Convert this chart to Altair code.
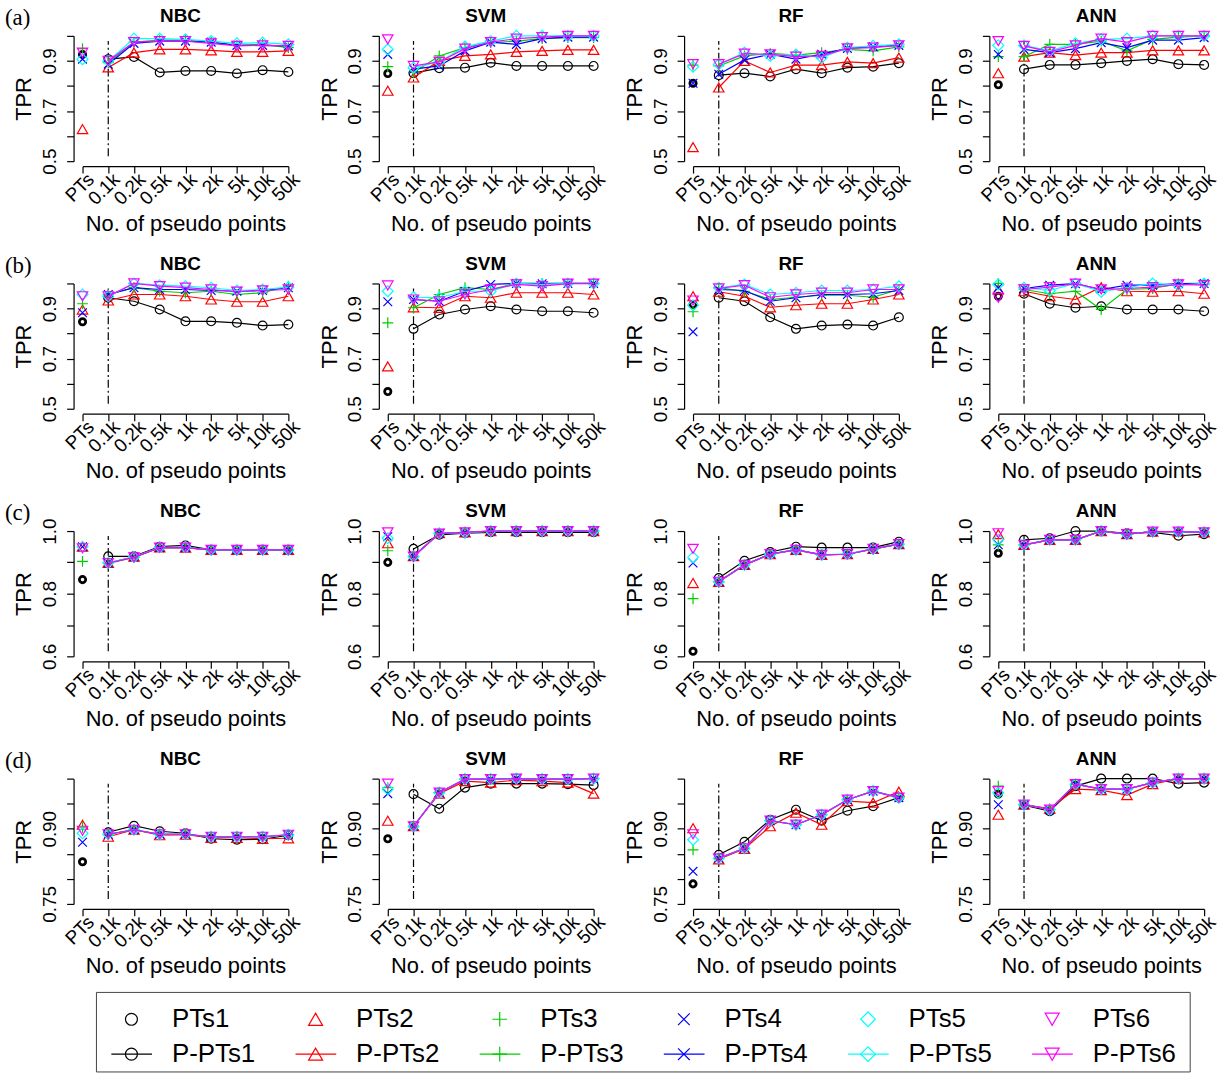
import json
import altair as alt
import pandas as pd

# ---- categories -------------------------------------------------------------
sizes = ["PTs", "0.1k", "0.2k", "0.5k", "1k", "2k", "5k", "10k", "50k"]
classifiers = ["NBC", "SVM", "RF", "ANN"]
row_letters = ["(a)", "(b)", "(c)", "(d)"]
pts_names = ["PTs1", "PTs2", "PTs3", "PTs4", "PTs5", "PTs6"]
ppts_names = ["P-PTs1", "P-PTs2", "P-PTs3", "P-PTs4", "P-PTs5", "P-PTs6"]

# ---- TPR of the original training sets (one value per PTs set) ---------------
a_NBC_pts = [0.926, 0.628, 0.949, 0.907, 0.907, 0.933]
a_SVM_pts = [0.850, 0.781, 0.877, 0.926, 0.946, 0.986]
a_RF_pts = [0.811, 0.556, 0.883, 0.811, 0.877, 0.887]
a_ANN_pts = [0.805, 0.851, 0.917, 0.926, 0.962, 0.979]
b_NBC_pts = [0.847, 0.896, 0.919, 0.883, 0.956, 0.949]
b_SVM_pts = [0.569, 0.669, 0.843, 0.927, 0.969, 0.992]
b_RF_pts = [0.916, 0.949, 0.887, 0.807, 0.913, 0.932]
b_ANN_pts = [0.949, 0.976, 1.000, 0.983, 0.996, 0.943]
c_NBC_pts = [0.845, 0.950, 0.903, 0.950, 0.950, 0.945]
c_SVM_pts = [0.900, 0.961, 0.937, 0.982, 0.977, 0.996]
c_RF_pts = [0.616, 0.834, 0.784, 0.898, 0.916, 0.943]
c_ANN_pts = [0.929, 0.990, 0.956, 0.956, 0.972, 0.993]
d_NBC_pts = [0.834, 0.908, 0.903, 0.873, 0.891, 0.896]
d_SVM_pts = [0.880, 0.916, 0.982, 0.970, 0.979, 0.990]
d_RF_pts = [0.790, 0.901, 0.858, 0.815, 0.878, 0.889]
d_ANN_pts = [0.969, 0.928, 0.985, 0.948, 0.972, 0.975]

# ---- TPR with pseudo points added (0.1k ... 50k), one row per P-PTs set -------
a_NBC = [
    [0.907, 0.916, 0.854, 0.860, 0.860, 0.850, 0.863, 0.856],
    [0.874, 0.933, 0.946, 0.946, 0.942, 0.936, 0.936, 0.940],
    [0.893, 0.975, 0.983, 0.983, 0.975, 0.962, 0.966, 0.953],
    [0.887, 0.970, 0.979, 0.979, 0.975, 0.962, 0.962, 0.960],
    [0.900, 0.989, 0.989, 0.986, 0.979, 0.970, 0.973, 0.966],
    [0.900, 0.975, 0.979, 0.979, 0.970, 0.960, 0.962, 0.960],
]
a_SVM = [
    [0.851, 0.871, 0.873, 0.893, 0.880, 0.880, 0.880, 0.880],
    [0.834, 0.900, 0.920, 0.926, 0.936, 0.940, 0.944, 0.944],
    [0.854, 0.920, 0.953, 0.973, 0.979, 0.989, 0.993, 0.993],
    [0.867, 0.880, 0.940, 0.975, 0.966, 0.989, 0.995, 0.995],
    [0.873, 0.896, 0.957, 0.979, 1.000, 1.000, 1.000, 1.000],
    [0.880, 0.896, 0.949, 0.975, 0.989, 0.995, 1.000, 1.000],
]
a_RF = [
    [0.843, 0.851, 0.838, 0.867, 0.851, 0.873, 0.877, 0.891],
    [0.794, 0.900, 0.854, 0.883, 0.883, 0.896, 0.891, 0.913],
    [0.880, 0.920, 0.930, 0.923, 0.933, 0.946, 0.940, 0.956],
    [0.847, 0.904, 0.927, 0.907, 0.927, 0.950, 0.957, 0.962],
    [0.887, 0.933, 0.920, 0.926, 0.913, 0.953, 0.960, 0.966],
    [0.887, 0.929, 0.926, 0.917, 0.920, 0.950, 0.953, 0.962],
]
a_ANN = [
    [0.867, 0.884, 0.884, 0.891, 0.900, 0.907, 0.887, 0.884],
    [0.917, 0.933, 0.923, 0.933, 0.933, 0.942, 0.942, 0.942],
    [0.917, 0.966, 0.966, 0.979, 0.940, 0.986, 0.995, 1.000],
    [0.946, 0.933, 0.949, 0.973, 0.953, 0.983, 0.983, 0.993],
    [0.962, 0.940, 0.970, 0.986, 0.989, 1.000, 1.000, 1.000],
    [0.960, 0.936, 0.962, 0.989, 0.975, 1.000, 1.000, 1.000],
]
b_NBC = [
    [0.943, 0.929, 0.896, 0.849, 0.849, 0.843, 0.832, 0.836],
    [0.932, 0.956, 0.956, 0.949, 0.936, 0.927, 0.927, 0.949],
    [0.956, 0.983, 0.969, 0.963, 0.969, 0.956, 0.963, 0.989],
    [0.956, 0.983, 0.976, 0.976, 0.972, 0.969, 0.972, 0.983],
    [0.949, 1.000, 0.993, 0.989, 0.983, 0.972, 0.976, 0.985],
    [0.949, 1.000, 0.989, 0.983, 0.976, 0.967, 0.972, 0.976],
]
b_SVM = [
    [0.819, 0.876, 0.896, 0.909, 0.896, 0.889, 0.889, 0.883],
    [0.905, 0.903, 0.949, 0.943, 0.963, 0.963, 0.963, 0.956],
    [0.903, 0.956, 0.983, 0.976, 1.000, 1.000, 1.000, 1.000],
    [0.936, 0.929, 0.969, 0.996, 1.000, 0.999, 1.000, 1.000],
    [0.945, 0.943, 0.969, 0.969, 1.000, 0.996, 1.000, 1.000],
    [0.936, 0.929, 0.956, 0.976, 0.996, 0.989, 0.999, 0.999],
]
b_RF = [
    [0.943, 0.929, 0.865, 0.819, 0.832, 0.836, 0.832, 0.865],
    [0.967, 0.949, 0.905, 0.913, 0.919, 0.919, 0.936, 0.956],
    [0.983, 0.969, 0.936, 0.945, 0.953, 0.953, 0.945, 0.976],
    [0.976, 0.972, 0.929, 0.943, 0.956, 0.956, 0.959, 0.972],
    [0.983, 0.996, 0.956, 0.963, 0.972, 0.972, 0.976, 0.989],
    [0.980, 0.993, 0.945, 0.956, 0.963, 0.963, 0.976, 0.976],
]
b_ANN = [
    [0.959, 0.919, 0.903, 0.909, 0.896, 0.896, 0.896, 0.889],
    [0.969, 0.949, 0.936, 0.985, 0.969, 0.967, 0.969, 0.959],
    [0.976, 0.959, 0.969, 0.896, 0.976, 0.980, 0.999, 0.996],
    [0.980, 0.993, 0.999, 0.976, 0.993, 0.993, 0.999, 1.000],
    [0.983, 0.972, 1.000, 0.967, 0.983, 1.000, 0.993, 1.000],
    [0.976, 0.985, 0.999, 0.976, 0.980, 0.985, 0.996, 0.993],
]
c_NBC = [
    [0.919, 0.919, 0.950, 0.954, 0.940, 0.940, 0.940, 0.940],
    [0.898, 0.918, 0.948, 0.947, 0.940, 0.940, 0.940, 0.940],
    [0.897, 0.916, 0.947, 0.948, 0.939, 0.939, 0.939, 0.939],
    [0.898, 0.917, 0.947, 0.947, 0.940, 0.940, 0.940, 0.940],
    [0.899, 0.917, 0.948, 0.948, 0.940, 0.940, 0.940, 0.940],
    [0.898, 0.916, 0.947, 0.947, 0.940, 0.940, 0.940, 0.940],
]
c_SVM = [
    [0.943, 0.988, 0.993, 0.996, 0.996, 0.996, 0.996, 0.996],
    [0.920, 0.993, 0.996, 1.000, 1.000, 1.000, 1.000, 1.000],
    [0.919, 0.992, 0.996, 0.999, 1.000, 1.000, 1.000, 1.000],
    [0.920, 0.993, 0.996, 1.000, 0.999, 1.000, 1.000, 1.000],
    [0.919, 0.993, 0.995, 1.000, 1.000, 1.000, 1.000, 1.000],
    [0.918, 0.992, 0.996, 1.000, 1.000, 1.000, 1.000, 1.000],
]
c_RF = [
    [0.850, 0.905, 0.933, 0.950, 0.947, 0.947, 0.947, 0.966],
    [0.838, 0.892, 0.926, 0.940, 0.924, 0.926, 0.943, 0.958],
    [0.838, 0.891, 0.926, 0.941, 0.924, 0.926, 0.942, 0.958],
    [0.839, 0.892, 0.927, 0.940, 0.925, 0.926, 0.943, 0.958],
    [0.838, 0.892, 0.926, 0.940, 0.924, 0.927, 0.943, 0.958],
    [0.838, 0.892, 0.926, 0.940, 0.924, 0.926, 0.943, 0.958],
]
c_ANN = [
    [0.972, 0.977, 1.000, 1.000, 0.993, 0.996, 0.985, 0.990],
    [0.956, 0.972, 0.972, 1.000, 0.990, 0.998, 0.998, 0.996],
    [0.956, 0.972, 0.972, 0.999, 0.990, 0.998, 0.998, 0.996],
    [0.956, 0.972, 0.972, 1.000, 0.990, 0.998, 0.998, 0.996],
    [0.956, 0.972, 0.972, 1.000, 0.990, 0.998, 0.998, 0.996],
    [0.956, 0.972, 0.972, 1.000, 0.990, 0.998, 0.998, 0.996],
]
d_NBC = [
    [0.893, 0.906, 0.895, 0.891, 0.880, 0.878, 0.879, 0.887],
    [0.884, 0.898, 0.887, 0.888, 0.882, 0.882, 0.880, 0.881],
    [0.889, 0.898, 0.889, 0.889, 0.884, 0.884, 0.884, 0.888],
    [0.889, 0.898, 0.889, 0.889, 0.884, 0.884, 0.884, 0.888],
    [0.889, 0.898, 0.889, 0.889, 0.884, 0.884, 0.884, 0.888],
    [0.889, 0.898, 0.889, 0.889, 0.884, 0.884, 0.884, 0.888],
]
d_SVM = [
    [0.969, 0.940, 0.982, 0.990, 0.990, 0.990, 0.989, 0.987],
    [0.905, 0.970, 0.995, 0.992, 0.997, 0.995, 0.992, 0.970],
    [0.905, 0.972, 0.999, 0.999, 1.000, 0.999, 0.999, 1.000],
    [0.905, 0.972, 0.999, 0.999, 1.000, 0.999, 0.999, 1.000],
    [0.905, 0.972, 0.999, 0.999, 1.000, 0.999, 0.999, 1.000],
    [0.905, 0.972, 0.999, 0.999, 1.000, 0.999, 0.999, 1.000],
]
d_RF = [
    [0.848, 0.874, 0.918, 0.938, 0.916, 0.936, 0.945, 0.962],
    [0.839, 0.860, 0.905, 0.932, 0.908, 0.955, 0.952, 0.974],
    [0.841, 0.861, 0.916, 0.908, 0.928, 0.958, 0.975, 0.962],
    [0.841, 0.861, 0.916, 0.908, 0.928, 0.958, 0.975, 0.962],
    [0.841, 0.861, 0.916, 0.908, 0.928, 0.958, 0.975, 0.962],
    [0.841, 0.861, 0.916, 0.908, 0.928, 0.958, 0.975, 0.962],
]
d_ANN = [
    [0.947, 0.935, 0.985, 1.000, 1.000, 1.000, 0.990, 0.992],
    [0.948, 0.940, 0.979, 0.977, 0.967, 0.989, 1.000, 1.000],
    [0.948, 0.938, 0.989, 0.979, 0.979, 0.992, 1.000, 1.000],
    [0.948, 0.938, 0.989, 0.979, 0.979, 0.992, 1.000, 1.000],
    [0.948, 0.938, 0.989, 0.979, 0.979, 0.992, 1.000, 1.000],
    [0.948, 0.938, 0.989, 0.979, 0.979, 0.992, 1.000, 1.000],
]

pts_values = [
    [a_NBC_pts, a_SVM_pts, a_RF_pts, a_ANN_pts],
    [b_NBC_pts, b_SVM_pts, b_RF_pts, b_ANN_pts],
    [c_NBC_pts, c_SVM_pts, c_RF_pts, c_ANN_pts],
    [d_NBC_pts, d_SVM_pts, d_RF_pts, d_ANN_pts],
]
line_values = [
    [a_NBC, a_SVM, a_RF, a_ANN],
    [b_NBC, b_SVM, b_RF, b_ANN],
    [c_NBC, c_SVM, c_RF, c_ANN],
    [d_NBC, d_SVM, d_RF, d_ANN],
]

# y-axis ranges, tick positions and labelled ticks of each row
y_domains = [[0.5, 1.0], [0.5, 1.0], [0.6, 1.0], [0.75, 1.0]]
y_ticks = [
    [0.5, 0.6, 0.7, 0.8, 0.9, 1.0],
    [0.5, 0.6, 0.7, 0.8, 0.9, 1.0],
    [0.6, 0.7, 0.8, 0.9, 1.0],
    [0.75, 0.8, 0.85, 0.9, 0.95, 1.0],
]
y_labelled = [[0.5, 0.7, 0.9], [0.5, 0.7, 0.9], [0.6, 0.8, 1.0], [0.75, 0.9]]
y_formats = [".1f", ".1f", ".1f", ".2f"]

# ---- styling ------------------------------------------------------------------
colors = ["#000000", "#FF0000", "#00CD00", "#0000FF", "#00FFFF", "#FF00FF"]
PLUS = "M-1,0L1,0M0,-1L0,1"
CROSS = "M-0.8,-0.8L0.8,0.8M-0.8,0.8L0.8,-0.8"
shapes = ["circle", "triangle-up", PLUS, CROSS, "diamond", "triangle-down"]
sym_sizes = [80, 110, 120, 120, 120, 110]
FONT = "Liberation Sans"
PANEL_W, PANEL_H = 207, 126
LW = 1.2


def x_encoding():
    label_expr = json.dumps(sizes) + "[datum.value - 1]"
    return alt.X(
        "x:Q",
        scale=alt.Scale(domain=[1, 9], nice=False, zero=False),
        axis=alt.Axis(
            values=list(range(1, 10)), labelExpr=label_expr, labelAngle=315,
            labelAlign="right", labelBaseline="middle", labelOffset=8,
            labelPadding=3, labelFontSize=19, labelFont=FONT, labelColor="black",
            labelOverlap=False, labelFlush=False, labelBound=False,
            title="No. of pseudo points", titleFontSize=22, titleFont=FONT,
            titleFontWeight="normal", titleColor="black", titlePadding=5,
            offset=5, tickSize=7, tickColor="black", domainColor="black",
            tickWidth=LW, domainWidth=LW, grid=False,
        ),
    )


def y_encoding(r):
    labelled = json.dumps(y_labelled[r])
    label_expr = (
        f"indexof({labelled}, datum.value) >= 0 ? "
        f"format(datum.value, '{y_formats[r]}') : ''"
    )
    return alt.Y(
        "tpr:Q",
        scale=alt.Scale(domain=y_domains[r], nice=False, zero=False),
        axis=alt.Axis(
            values=y_ticks[r], labelExpr=label_expr, labelAngle=270,
            labelAlign="center", labelBaseline="bottom", labelPadding=7,
            labelFontSize=19, labelFont=FONT, labelColor="black",
            labelOverlap=False, labelFlush=False, labelBound=False,
            title="TPR", titleFontSize=22, titleFont=FONT,
            titleFontWeight="normal", titleColor="black", titlePadding=5,
            offset=9, tickSize=7, tickColor="black", domainColor="black",
            tickWidth=LW, domainWidth=LW, grid=False,
        ),
    )


def panel(r, c):
    xe, ye = x_encoding(), y_encoding(r)
    lo, hi = y_domains[r]
    span = hi - lo
    # dash-dotted separator at 0.1k
    sep = pd.DataFrame({"x": [2], "tpr": [lo + 0.04 * span], "tpr2": [hi - 0.04 * span]})
    layers = [
        alt.Chart(sep).mark_rule(color="black", strokeWidth=LW, strokeDash=[8, 3, 2, 3])
        .encode(x=xe, y=ye, y2="tpr2:Q")
    ]
    for k in range(6):
        ln = pd.DataFrame({"x": list(range(2, 10)), "tpr": line_values[r][c][k]})
        layers.append(
            alt.Chart(ln).mark_line(color=colors[k], strokeWidth=LW).encode(x=xe, y=ye)
        )
        layers.append(
            alt.Chart(ln).mark_point(
                shape=shapes[k], color=colors[k], filled=False,
                size=sym_sizes[k], strokeWidth=LW, opacity=1,
            ).encode(x=xe, y=ye)
        )
    for k in range(6):
        p = pd.DataFrame({"x": [1], "tpr": [pts_values[r][c][k]]})
        bold = k == 0
        layers.append(
            alt.Chart(p).mark_point(
                shape=shapes[k], color=colors[k], filled=False,
                size=40 if bold else sym_sizes[k],
                strokeWidth=2.8 if bold else LW, opacity=1,
            ).encode(x=xe, y=ye)
        )
    # panel heading (classifier name) and, on the first column, the row letter
    head = pd.DataFrame({"t": [classifiers[c]]})
    layers.append(
        alt.Chart(head).mark_text(
            font=FONT, fontSize=19, fontWeight="bold", align="center",
            baseline="middle", color="black",
        ).encode(text="t:N", x=alt.value(PANEL_W / 2 - 5), y=alt.value(-20))
    )
    if c == 0:
        lab = pd.DataFrame({"t": [row_letters[r]]})
        layers.append(
            alt.Chart(lab).mark_text(
                font="Liberation Serif", fontSize=23, align="left",
                baseline="middle", color="black",
            ).encode(text="t:N", x=alt.value(-78), y=alt.value(-18))
        )
    return alt.layer(*layers).properties(width=PANEL_W, height=PANEL_H)


rows = [alt.hconcat(*[panel(r, c) for c in range(4)], spacing=14) for r in range(4)]
grid = alt.vconcat(*rows, spacing=20)

# ---- legend box: PTs sets (symbols) and P-PTs sets (line + symbol) ----------
leg = pd.DataFrame({
    "name": pts_names + ppts_names,
    "col": list(range(6)) * 2,
    "row": [0] * 6 + [1] * 6,
    "k": list(range(6)) * 2,
})
LEG_W, BOX_W, COL_W, BOX_X = 1114, 1100, 185.2, 14
x_start = -BOX_X / COL_W
LX = alt.Scale(domain=[x_start, x_start + LEG_W / COL_W], nice=False, zero=False)
LY = alt.Scale(domain=[-0.77, 1.51], nice=False, zero=False, reverse=True)
leg_layers = [
    alt.Chart(pd.DataFrame({"x0": [0], "x1": [BOX_W / COL_W], "y0": [-0.77], "y1": [1.51]}))
    .mark_rect(fill=None, stroke="#444444", strokeWidth=1)
    .encode(
        x=alt.X("x0:Q", scale=LX, axis=None), x2="x1:Q",
        y=alt.Y("y0:Q", scale=LY, axis=None), y2="y1:Q",
    )
]
for k in range(6):
    sub = leg[leg["k"] == k]
    leg_layers.append(
        alt.Chart(sub[sub["row"] == 1]).transform_calculate(
            xa="datum.col + 0.081", xb="datum.col + 0.302"
        ).mark_rule(color=colors[k], strokeWidth=LW).encode(
            x=alt.X("xa:Q", scale=LX, axis=None), x2="xb:Q",
            y=alt.Y("row:Q", scale=LY, axis=None),
        )
    )
    leg_layers.append(
        alt.Chart(sub).transform_calculate(xs="datum.col + 0.19").mark_point(
            shape=shapes[k], color=colors[k], filled=False,
            size=sym_sizes[k] * 1.8, strokeWidth=LW, opacity=1,
        ).encode(
            x=alt.X("xs:Q", scale=LX, axis=None),
            y=alt.Y("row:Q", scale=LY, axis=None),
        )
    )
leg_layers.append(
    alt.Chart(leg).transform_calculate(xt="datum.col + 0.41").mark_text(
        font=FONT, fontSize=26, align="left", baseline="middle", color="black"
    ).encode(
        x=alt.X("xt:Q", scale=LX, axis=None),
        y=alt.Y("row:Q", scale=LY, axis=None),
        text="name:N",
    )
)
legend_box = alt.layer(*leg_layers).properties(width=LEG_W, height=80)

chart = alt.vconcat(grid, legend_box, spacing=14).properties(
    padding={"left": 5, "top": 4, "right": 5, "bottom": 2},
    background="white",
).configure_view(stroke=None)

chart.save("out.html", embed_options={"renderer": "svg", "actions": False})
